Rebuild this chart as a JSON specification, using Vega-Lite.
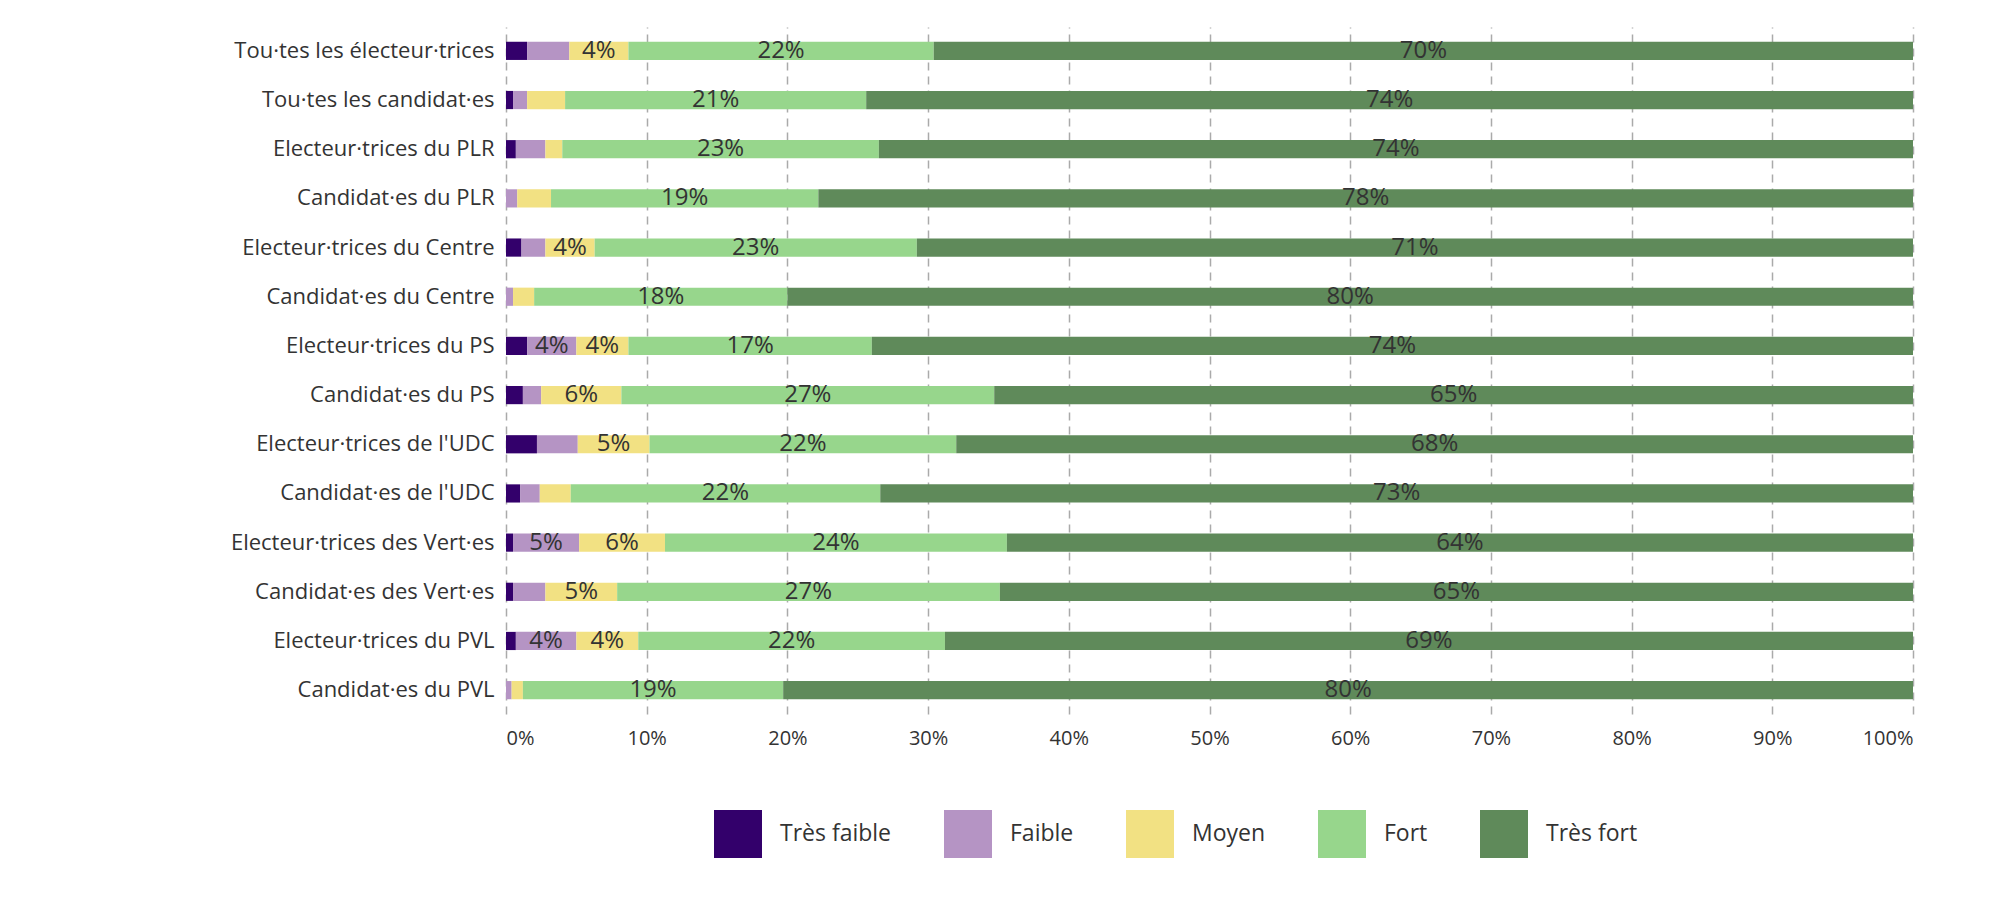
{
  "$schema": "https://vega.github.io/schema/vega-lite/v6.json",
  "width": 1407, "height": 687,
  "autosize": "none",
  "padding": {"left": 506, "top": 27, "right": 87, "bottom": 184},
  "background": "white",
  "config": {"view": {"stroke": null}, "font": "Open Sans"},
  "data": {"values": [
    {"g":"Tou·tes les électeur·trices","c":"Très faible","v":1.5},{"g":"Tou·tes les électeur·trices","c":"Faible","v":3},{"g":"Tou·tes les électeur·trices","c":"Moyen","v":4.2},{"g":"Tou·tes les électeur·trices","c":"Fort","v":21.7},{"g":"Tou·tes les électeur·trices","c":"Très fort","v":69.6},
    {"g":"Tou·tes les candidat·es","c":"Très faible","v":0.5},{"g":"Tou·tes les candidat·es","c":"Faible","v":1},{"g":"Tou·tes les candidat·es","c":"Moyen","v":2.7},{"g":"Tou·tes les candidat·es","c":"Fort","v":21.4},{"g":"Tou·tes les candidat·es","c":"Très fort","v":74.4},
    {"g":"Electeur·trices du PLR","c":"Très faible","v":0.7},{"g":"Electeur·trices du PLR","c":"Faible","v":2.1},{"g":"Electeur·trices du PLR","c":"Moyen","v":1.2},{"g":"Electeur·trices du PLR","c":"Fort","v":22.5},{"g":"Electeur·trices du PLR","c":"Très fort","v":73.5},
    {"g":"Candidat·es du PLR","c":"Très faible","v":0},{"g":"Candidat·es du PLR","c":"Faible","v":0.8},{"g":"Candidat·es du PLR","c":"Moyen","v":2.4},{"g":"Candidat·es du PLR","c":"Fort","v":19},{"g":"Candidat·es du PLR","c":"Très fort","v":77.8},
    {"g":"Electeur·trices du Centre","c":"Très faible","v":1.1},{"g":"Electeur·trices du Centre","c":"Faible","v":1.7},{"g":"Electeur·trices du Centre","c":"Moyen","v":3.5},{"g":"Electeur·trices du Centre","c":"Fort","v":22.9},{"g":"Electeur·trices du Centre","c":"Très fort","v":70.8},
    {"g":"Candidat·es du Centre","c":"Très faible","v":0},{"g":"Candidat·es du Centre","c":"Faible","v":0.5},{"g":"Candidat·es du Centre","c":"Moyen","v":1.5},{"g":"Candidat·es du Centre","c":"Fort","v":18},{"g":"Candidat·es du Centre","c":"Très fort","v":80},
    {"g":"Electeur·trices du PS","c":"Très faible","v":1.5},{"g":"Electeur·trices du PS","c":"Faible","v":3.5},{"g":"Electeur·trices du PS","c":"Moyen","v":3.7},{"g":"Electeur·trices du PS","c":"Fort","v":17.3},{"g":"Electeur·trices du PS","c":"Très fort","v":74},
    {"g":"Candidat·es du PS","c":"Très faible","v":1.2},{"g":"Candidat·es du PS","c":"Faible","v":1.3},{"g":"Candidat·es du PS","c":"Moyen","v":5.7},{"g":"Candidat·es du PS","c":"Fort","v":26.5},{"g":"Candidat·es du PS","c":"Très fort","v":65.3},
    {"g":"Electeur·trices de l'UDC","c":"Très faible","v":2.2},{"g":"Electeur·trices de l'UDC","c":"Faible","v":2.9},{"g":"Electeur·trices de l'UDC","c":"Moyen","v":5.1},{"g":"Electeur·trices de l'UDC","c":"Fort","v":21.8},{"g":"Electeur·trices de l'UDC","c":"Très fort","v":68},
    {"g":"Candidat·es de l'UDC","c":"Très faible","v":1},{"g":"Candidat·es de l'UDC","c":"Faible","v":1.4},{"g":"Candidat·es de l'UDC","c":"Moyen","v":2.2},{"g":"Candidat·es de l'UDC","c":"Fort","v":22},{"g":"Candidat·es de l'UDC","c":"Très fort","v":73.4},
    {"g":"Electeur·trices des Vert·es","c":"Très faible","v":0.5},{"g":"Electeur·trices des Vert·es","c":"Faible","v":4.7},{"g":"Electeur·trices des Vert·es","c":"Moyen","v":6.1},{"g":"Electeur·trices des Vert·es","c":"Fort","v":24.3},{"g":"Electeur·trices des Vert·es","c":"Très fort","v":64.4},
    {"g":"Candidat·es des Vert·es","c":"Très faible","v":0.5},{"g":"Candidat·es des Vert·es","c":"Faible","v":2.3},{"g":"Candidat·es des Vert·es","c":"Moyen","v":5.1},{"g":"Candidat·es des Vert·es","c":"Fort","v":27.2},{"g":"Candidat·es des Vert·es","c":"Très fort","v":64.9},
    {"g":"Electeur·trices du PVL","c":"Très faible","v":0.7},{"g":"Electeur·trices du PVL","c":"Faible","v":4.3},{"g":"Electeur·trices du PVL","c":"Moyen","v":4.4},{"g":"Electeur·trices du PVL","c":"Fort","v":21.8},{"g":"Electeur·trices du PVL","c":"Très fort","v":68.8},
    {"g":"Candidat·es du PVL","c":"Très faible","v":0},{"g":"Candidat·es du PVL","c":"Faible","v":0.4},{"g":"Candidat·es du PVL","c":"Moyen","v":0.8},{"g":"Candidat·es du PVL","c":"Fort","v":18.5},{"g":"Candidat·es du PVL","c":"Très fort","v":80.3}
  ]},
  "transform": [
    {"calculate": "indexof(['Très faible','Faible','Moyen','Fort','Très fort'], datum.c)", "as": "ord"},
    {"stack": "v", "groupby": ["g"], "sort": [{"field": "ord"}], "as": ["x0", "x1"]},
    {"calculate": "(datum.x0 + datum.x1) / 2", "as": "xm"},
    {"calculate": "format(round(datum.v), 'd') + '%'", "as": "lab"}
  ],
  "encoding": {
    "y": {"field": "g", "type": "nominal", "sort": null, "title": null,
      "scale": {"paddingInner": 0.63, "paddingOuter": 0.3},
      "axis": {"domain": false, "ticks": false, "labelFontSize": 22, "labelColor": "#333", "labelPadding": 12, "labelLimit": 0}}
  },
  "layer": [
    {
      "mark": {"type": "bar"},
      "encoding": {
        "x": {"field": "x0", "type": "quantitative", "title": null,
          "scale": {"domain": [0, 100], "nice": false},
          "axis": {"values": [0,10,20,30,40,50,60,70,80,90,100], "labelExpr": "datum.value + '%'", "domain": false, "ticks": false,
            "grid": true, "gridDash": [8, 6], "gridColor": "#aaa", "gridWidth": 1.5, "labelFontSize": 20, "labelColor": "#333", "labelPadding": 14}},
        "x2": {"field": "x1"},
        "color": {"field": "c", "type": "nominal", "title": null,
          "scale": {"domain": ["Très faible","Faible","Moyen","Fort","Très fort"], "range": ["#33006b","#b594c4","#f2e183","#97d68c","#5f8a5a"]},
          "legend": {"orient": "none", "direction": "horizontal", "legendX": 208, "legendY": 783, "symbolType": "square", "symbolSize": 2304,
            "symbolStrokeWidth": 0, "symbolOpacity": 1, "labelFontSize": 23, "labelColor": "#333", "labelOffset": 18, "columnPadding": 52}}
      }
    },
    {
      "transform": [{"filter": "datum.v >= 3.5"}],
      "mark": {"type": "text", "fontSize": 24, "color": "#333"},
      "encoding": {
        "x": {"field": "xm", "type": "quantitative"},
        "text": {"field": "lab"}
      }
    }
  ]
}
